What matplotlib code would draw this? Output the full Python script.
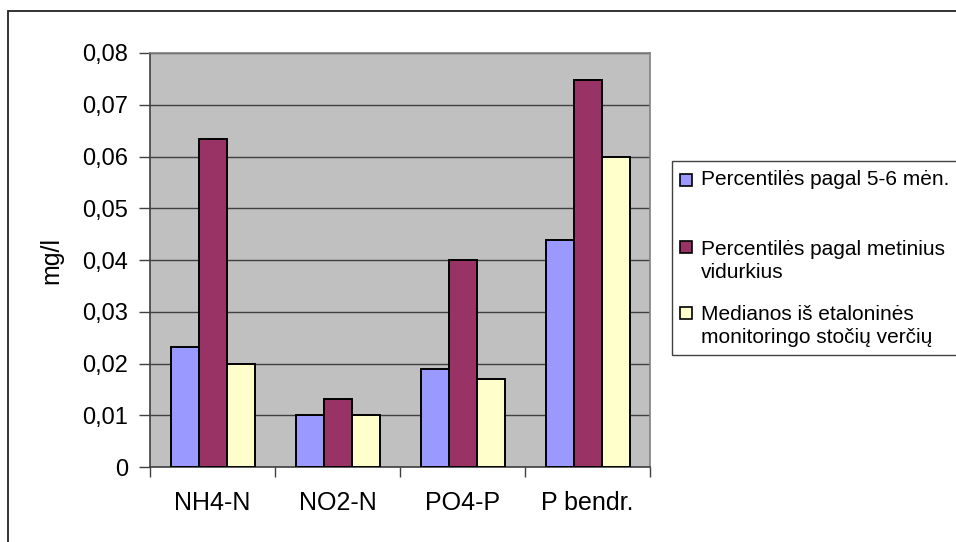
import numpy as np
import matplotlib.pyplot as plt
from matplotlib.patches import Rectangle
from matplotlib.ticker import FuncFormatter

plt.rcParams['font.family'] = ['Liberation Sans', 'DejaVu Sans']

# data
categories = ["NH4-N", "NO2-N", "PO4-P", "P bendr."]
series_names = ["Percentilės pagal 5-6 mėn.",
                "Percentilės pagal metinius\nvidurkius",
                "Medianos iš etaloninės\nmonitoringo stočių verčių"]
menesiu = [0.0232, 0.010, 0.019, 0.0438]
metiniu = [0.0634, 0.0131, 0.040, 0.0747]
medianos = [0.020, 0.010, 0.017, 0.060]
colors = ["#9999FF", "#993366", "#FFFFCC"]

W, H = 956, 542
fig = plt.figure(figsize=(W / 100, H / 100), dpi=100)

# outer chart border (only top/left visible)
fig.patches.append(Rectangle((8 / W, -0.1), 1.2, 1 - 11 / H + 0.1, transform=fig.transFigure,
                             fill=False, edgecolor="#222222", linewidth=1.3))

ax = fig.add_axes([150 / W, 1 - 467 / H, 500 / W, 414 / H])
ax.set_facecolor("#C0C0C0")

x = np.arange(len(categories))
w = 0.224
for j, vals in enumerate([menesiu, metiniu, medianos]):
    ax.bar(x + (j - 1) * w, vals, width=w, color=colors[j], edgecolor="black",
           linewidth=1.4, zorder=3)

ax.set_xlim(-0.5, 3.5)
ax.set_ylim(0, 0.08)
ax.set_yticks(np.arange(0, 0.081, 0.01))
ax.yaxis.set_major_formatter(FuncFormatter(
    lambda v, p: "0" if abs(v) < 1e-9 else f"{v:.2f}".replace(".", ",")))
ax.grid(axis="y", color="#404040", linewidth=1.0, zorder=1)
ax.set_axisbelow(True)

# category labels between boundary ticks
ax.set_xticks(np.arange(-0.5, 4, 1.0))
ax.set_xticklabels([])
ax.set_xticks(x, minor=True)
ax.set_xticklabels(categories, minor=True, fontsize=18)
ax.tick_params(axis="x", which="minor", length=0, pad=17)
ax.tick_params(axis="x", which="major", length=7, width=1.0, color="#404040", direction="out")
ax.tick_params(axis="y", length=8, width=1.0, color="#404040", direction="out",
               labelsize=17, pad=8)

for s in ["left", "bottom"]:
    ax.spines[s].set_color("#404040")
    ax.spines[s].set_linewidth(1.2)
for s in ["top", "right"]:
    ax.spines[s].set_color("#808080")
    ax.spines[s].set_linewidth(1.2)

ax.set_ylabel("mg/l", fontsize=18)
ax.yaxis.set_label_coords(-0.174, 0.5)

# legend box, running off the right edge
lx0, ly0, ly1 = 672, 161, 355
fig.patches.append(Rectangle((lx0 / W, 1 - ly1 / H), 1.0, (ly1 - ly0) / H,
                             transform=fig.transFigure, facecolor="white",
                             edgecolor="#404040", linewidth=1.0))
entry_y = [180, 261, 326]
for name, c, yy in zip(series_names, colors, entry_y):
    first_line_y = yy if "\n" not in name else yy - 13.5
    fig.patches.append(Rectangle((680 / W, 1 - (first_line_y + 6) / H), 12 / W, 12 / H,
                                 transform=fig.transFigure, facecolor=c,
                                 edgecolor="black", linewidth=1.2))
    fig.text(701 / W, 1 - yy / H, name, fontsize=15, ha="left", va="center",
             linespacing=1.3)

fig.savefig("out.png", dpi=100)
